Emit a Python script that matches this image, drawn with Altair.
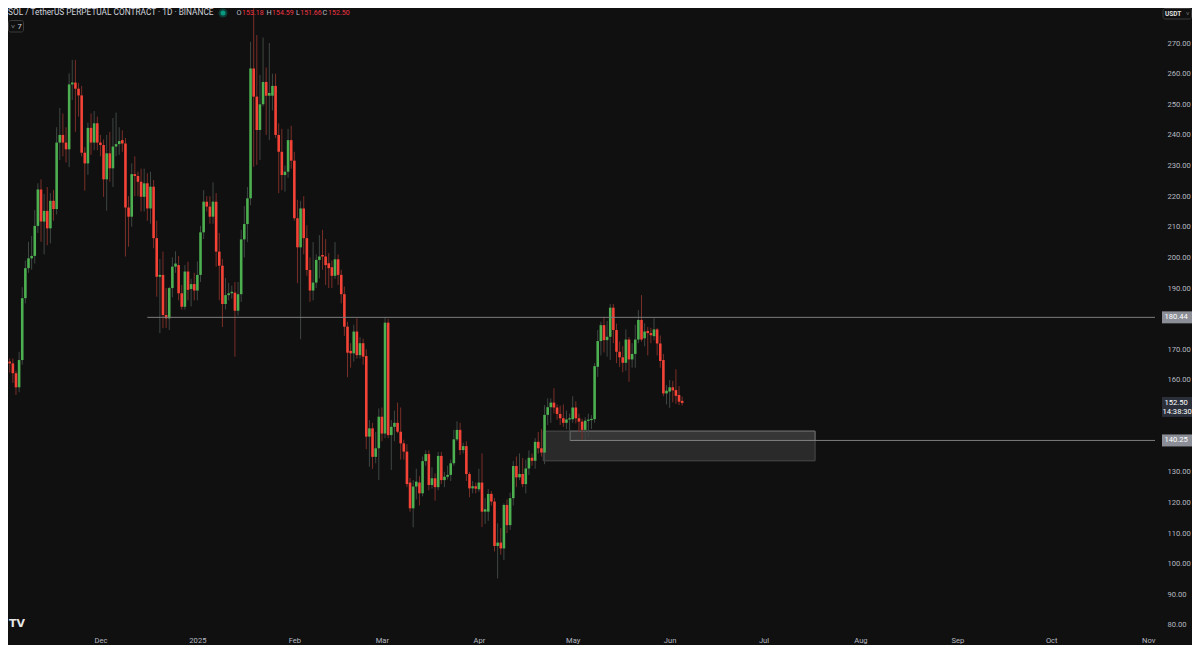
import altair as alt
import pandas as pd
import numpy as np

# ---------------- data ----------------
first_day = "2024-11-01"

opens = [
    # Nov 2024
    168.5, 166.0, 165.4, 162.2, 157.6, 166.5, 186.7, 196.5, 199.7, 200.5, 210.3, 222.2, 211.7, 215.2, 209.5,
    218.5, 215.8, 237.5, 240.0, 237.5, 235.3, 256.5, 257.1, 255.1, 252.9, 234.2, 230.7, 242.3, 237.5, 243.8,
    # Dec 2024
    237.5, 236.7, 225.5, 234.0, 229.1, 236.2, 237.0, 238.3, 237.2, 216.3, 213.3, 227.2, 226.6, 224.7, 219.8,
    224.2, 216.0, 223.1, 206.3, 193.7, 194.3, 181.2, 180.1, 190.0, 197.0, 197.5, 188.3, 183.9, 195.4, 189.7, 191.3,
    # Jan 2025
    189.2, 194.3, 208.2, 218.2, 216.6, 213.3, 218.2, 201.9, 197.3, 184.8, 187.7, 188.3, 188.5, 182.6, 188.0,
    205.9, 210.9, 219.3, 261.7, 252.5, 241.6, 250.0, 257.3, 252.8, 252.8, 256.0, 240.0, 234.5, 226.9, 228.0, 238.3,
    # Feb 2025
    231.6, 212.8, 203.3, 216.0, 206.3, 195.9, 189.2, 191.8, 199.2, 200.8, 200.3, 198.1, 196.8, 194.0, 199.4,
    194.3, 188.0, 177.4, 169.5, 168.7, 175.8, 168.1, 172.0, 167.8, 141.5, 144.2, 134.9, 137.7,
    # Mar 2025
    148.0, 142.5, 178.7, 142.0, 144.7, 146.0, 143.1, 139.3, 136.6, 126.5, 118.1, 125.2, 126.5, 123.0, 133.5,
    135.8, 125.7, 127.9, 125.0, 135.2, 127.3, 128.4, 129.0, 132.8, 140.6, 143.7, 137.1, 138.4, 129.3, 124.6, 125.3,
    # Apr 2025
    124.3, 126.5, 117.0, 117.0, 122.8, 120.3, 105.8, 106.9, 105.0, 119.2, 112.6, 121.4, 131.9, 128.2, 129.3,
    126.0, 131.1, 134.6, 133.6, 139.8, 137.7, 136.3, 148.6, 151.1, 152.6, 151.0, 148.9, 147.5, 146.0, 147.1,
    # May 2025
    147.2, 151.0, 147.5, 146.4, 143.7, 146.7, 147.0, 147.2, 164.3, 172.7, 177.9, 173.0, 174.1, 183.6, 176.3,
    169.2, 167.4, 165.6, 173.2, 166.7, 168.5, 173.2, 179.6, 173.6, 176.0, 175.3, 174.3, 176.5, 171.9, 166.5, 155.6,
    # Jun 2025
    156.2, 157.6, 156.7, 155.1, 153.18,
]

highs = [
    174.1, 167.0, 167.0, 163.0, 169.2, 190.3, 199.0, 205.1, 207.0, 215.5, 224.2, 225.5, 220.7, 223.0, 221.0,
    222.0, 242.5, 248.8, 247.0, 242.5, 260.1, 264.5, 264.5, 257.0, 256.0, 236.0, 244.0, 247.0, 247.8, 246.0,
    240.0, 238.5, 240.0, 241.0, 245.5, 247.3, 242.5, 241.5, 239.0, 220.0, 230.7, 233.0, 228.0, 229.0, 229.0,
    227.5, 228.0, 225.3, 212.0, 199.5, 201.9, 190.0, 190.4, 200.0, 202.0, 200.5, 191.0, 197.5, 198.6, 193.0, 195.0,
    198.7, 210.3, 222.0, 220.0, 220.0, 224.5, 221.0, 208.0, 199.5, 193.3, 191.7, 190.8, 192.0, 192.0, 209.0,
    216.8, 223.0, 270.4, 295.0, 272.6, 259.6, 271.8, 262.0, 270.0, 260.0, 260.0, 243.8, 242.0, 230.0, 242.0, 243.0,
    234.5, 218.8, 218.5, 220.0, 210.5, 200.0, 205.0, 201.0, 207.3, 209.0, 206.0, 201.4, 199.0, 205.0, 201.0,
    196.0, 190.5, 179.0, 172.0, 178.0, 180.1, 174.0, 173.5, 170.0, 146.9, 146.0, 143.0, 150.7,
    151.0, 180.5, 180.0, 146.9, 150.0, 152.6, 151.0, 140.5, 139.0, 128.0, 127.3, 131.0, 128.6, 135.0, 137.0,
    137.0, 131.5, 129.5, 136.5, 136.5, 130.0, 132.0, 134.0, 143.7, 146.5, 146.0, 139.5, 140.0, 130.0, 127.0, 126.5,
    131.0, 136.0, 121.5, 124.4, 123.7, 121.5, 113.2, 111.6, 119.7, 121.0, 123.2, 133.5, 135.0, 136.0, 134.5,
    134.0, 137.0, 136.0, 141.0, 143.0, 144.0, 151.8, 154.0, 154.0, 157.3, 152.0, 151.6, 152.0, 150.0, 149.0,
    154.7, 153.0, 149.0, 147.3, 147.8, 149.0, 148.5, 165.5, 176.3, 179.0, 180.6, 179.3, 184.8, 184.8, 178.4,
    172.5, 171.0, 176.5, 174.0, 172.0, 178.0, 182.8, 187.7, 178.5, 177.3, 177.0, 180.2, 177.0, 174.5, 168.5, 158.3,
    160.0, 159.7, 163.5, 158.0, 154.59,
]

lows = [
    163.3, 162.4, 159.0, 155.1, 156.0, 165.0, 185.0, 195.0, 196.0, 198.0, 208.0, 205.1, 201.0, 204.0, 204.6,
    212.0, 214.0, 231.8, 233.0, 231.0, 229.5, 251.4, 241.0, 246.0, 233.0, 221.8, 227.0, 233.5, 235.0, 235.0,
    233.0, 219.8, 215.3, 224.7, 223.0, 233.0, 233.5, 234.5, 200.3, 203.5, 210.0, 220.0, 220.0, 215.0, 215.0,
    212.0, 211.0, 203.0, 187.2, 175.3, 176.9, 177.0, 176.3, 187.0, 195.0, 186.0, 183.0, 183.0, 186.0, 184.0, 186.0,
    186.0, 192.0, 206.0, 215.0, 211.0, 211.0, 197.0, 186.0, 177.3, 183.0, 186.0, 186.5, 167.6, 181.0, 185.5,
    200.0, 205.0, 217.0, 229.6, 230.2, 231.8, 249.3, 240.0, 238.3, 248.0, 239.0, 221.0, 222.0, 221.5, 226.0, 229.0,
    212.0, 191.6, 173.3, 201.0, 194.0, 185.5, 186.0, 190.0, 193.2, 196.0, 191.0, 190.0, 190.0, 193.0, 191.0,
    185.0, 174.4, 160.9, 164.0, 166.0, 167.0, 167.0, 165.0, 137.4, 131.7, 131.0, 132.8, 127.3,
    140.0, 141.0, 141.0, 130.6, 140.0, 142.6, 134.0, 134.0, 125.0, 117.0, 111.9, 121.0, 119.0, 122.0, 132.0,
    124.0, 124.5, 120.6, 124.0, 126.0, 125.0, 127.5, 127.0, 132.0, 140.0, 135.5, 136.0, 127.0, 121.7, 123.0, 123.0,
    123.5, 112.0, 113.0, 114.0, 119.0, 104.0, 95.2, 103.0, 101.2, 110.0, 111.0, 119.0, 125.0, 127.3, 125.0,
    123.0, 129.0, 132.0, 131.0, 136.0, 135.0, 132.5, 145.3, 146.0, 149.1, 147.0, 145.3, 144.7, 144.0, 140.25,
    146.0, 145.8, 143.0, 140.6, 140.3, 141.3, 144.0, 146.0, 161.0, 168.0, 169.0, 167.6, 166.5, 172.0, 165.5,
    164.2, 162.5, 163.0, 159.4, 164.0, 164.0, 172.0, 172.5, 171.0, 168.0, 172.0, 173.0, 168.0, 164.0, 154.7, 152.0,
    150.9, 152.7, 152.2, 151.8, 151.66,
]

closes = [
    165.8, 165.4, 162.2, 157.6, 166.5, 186.7, 196.5, 199.7, 200.5, 210.3, 222.2, 211.7, 215.2, 209.5, 218.5,
    215.8, 237.5, 240.0, 237.5, 235.3, 256.5, 257.1, 255.1, 252.9, 234.2, 230.7, 242.3, 237.5, 243.8, 237.5,
    236.7, 225.5, 234.0, 229.1, 236.2, 237.0, 238.0, 237.2, 216.3, 213.3, 227.2, 226.6, 224.7, 219.8, 224.2,
    216.0, 223.1, 206.3, 193.7, 194.3, 181.2, 180.1, 190.0, 197.0, 198.0, 188.3, 183.9, 195.4, 189.4, 191.3, 189.2,
    194.3, 208.2, 218.2, 216.6, 213.3, 218.2, 201.9, 197.3, 184.8, 187.7, 188.3, 188.8, 182.6, 188.0, 205.9,
    210.9, 219.3, 261.7, 252.5, 241.6, 250.0, 257.3, 252.8, 253.7, 256.0, 240.0, 234.5, 226.9, 228.0, 238.3, 231.6,
    212.8, 203.3, 216.0, 206.3, 195.9, 189.2, 191.8, 199.2, 200.3, 200.3, 197.5, 196.5, 194.0, 199.4, 194.3,
    188.0, 177.4, 168.9, 168.7, 175.8, 168.1, 172.0, 167.6, 141.5, 144.2, 134.9, 137.7, 148.0,
    142.5, 178.7, 142.0, 144.7, 146.0, 143.1, 139.3, 136.6, 126.0, 118.1, 125.2, 126.8, 123.0, 133.5, 135.8,
    125.7, 127.9, 125.0, 135.2, 127.3, 128.4, 129.0, 132.8, 140.6, 143.7, 137.1, 138.4, 129.3, 124.6, 125.3, 124.5,
    126.5, 117.0, 117.8, 122.8, 120.3, 105.8, 106.9, 105.0, 119.2, 112.6, 121.4, 131.9, 128.2, 129.3, 126.0,
    131.1, 134.6, 133.6, 139.8, 137.7, 136.3, 148.6, 151.1, 152.6, 151.0, 148.9, 147.5, 146.0, 147.1, 147.5,
    151.0, 147.5, 146.4, 143.7, 146.7, 147.0, 147.2, 164.5, 172.7, 177.9, 173.0, 174.1, 183.6, 176.3, 169.2,
    167.4, 165.6, 173.2, 166.7, 168.5, 173.2, 179.6, 173.2, 175.8, 175.3, 174.6, 176.5, 171.9, 166.2, 155.6, 156.5,
    157.6, 156.6, 154.8, 152.9, 152.50,
]

# drawings
level_prices = [180.44, 140.25]
level_starts = ["2024-12-16", "2025-04-30T05:00"]
zone_starts = ["2025-04-21T14:00", "2025-04-30T05:00"]
zone_ends = ["2025-07-17T12:00", "2025-07-17T12:00"]
zone_lows = [133.6, 140.25]
zone_highs = [143.3, 143.3]
countdown = "14:38:30"

month_ticks = ["2024-12-01", "2025-01-01", "2025-02-01", "2025-03-01", "2025-04-01", "2025-05-01",
               "2025-06-01", "2025-07-01", "2025-08-01", "2025-09-01", "2025-10-01", "2025-11-01"]
month_labels = ["Dec", "2025", "Feb", "Mar", "Apr", "May", "Jun", "Jul", "Aug", "Sep", "Oct", "Nov"]
price_ticks = [80, 90, 100, 110, 120, 130, 160, 170, 190, 200, 210, 220, 230, 240, 250, 260, 270]

title_text = "SOL / TetherUS PERPETUAL CONTRACT · 1D · BINANCE"

assert len(opens) == len(highs) == len(lows) == len(closes) == 217

# ---------------- styling ----------------
BG = "#101010"
UP = "#4caf50"
DN = "#f44336"
UP_WICK = "#3e4742"
DN_WICK = "#7a2e28"
TXT = "#b5b8c0"
FONT = "Roboto"
FS = 7.6

JAN1 = pd.Timestamp("2025-01-01")


def day(s):
    return (pd.Timestamp(s) - JAN1).total_seconds() / 86400.0


X_DOMAIN = [-58.954, 306.18]
Y_DOMAIN = [79.67, 281.44]
W, H = 1152, 618

dates = pd.date_range(first_day, periods=len(opens), freq="D")
df = pd.DataFrame({
    "d": [(t - JAN1).days for t in dates],
    "o": opens, "h": highs, "l": lows, "c": closes,
})
df["up"] = df["c"] >= df["o"]
top = np.maximum(df["o"], df["c"])
bot = np.minimum(df["o"], df["c"])
minb = 0.4
small = (top - bot) < minb
mid = (top + bot) / 2
df["top"] = np.where(small, mid + minb / 2, top)
df["bot"] = np.where(small, mid - minb / 2, bot)

xs = alt.Scale(domain=X_DOMAIN, nice=False, zero=False)
ys = alt.Scale(domain=Y_DOMAIN, nice=False, zero=False)

tick_days = [int(day(t)) for t in month_ticks]
label_expr = "".join(f"datum.value == {v} ? '{lab}' : " for v, lab in zip(tick_days, month_labels)) + "''"

x_axis = alt.Axis(values=tick_days, labelExpr=label_expr, title=None, grid=False, ticks=False, domain=False,
                  labelColor=TXT, labelFont=FONT, labelFontSize=FS, labelPadding=10, labelFlush=False,
                  labelOverlap=False)
y_axis = alt.Axis(orient="right", values=price_ticks, format=".2f", title=None, grid=False, ticks=False,
                  domain=False, labelColor=TXT, labelFont=FONT, labelFontSize=FS, labelPadding=7,
                  labelAlign="left", labelBaseline="middle", labelOverlap=False)


def X(field):
    return alt.X(field, type="quantitative", scale=xs, axis=x_axis)


def Y(field):
    return alt.Y(field, type="quantitative", scale=ys, axis=y_axis)


color_wick = alt.condition("datum.up", alt.value(UP_WICK), alt.value(DN_WICK))
color_body = alt.condition("datum.up", alt.value(UP), alt.value(DN))

wicks = alt.Chart(df).mark_rule(strokeWidth=1, clip=True).encode(
    x=X("d"), y=Y("l"), y2="h:Q", color=color_wick)
bodies = alt.Chart(df).mark_bar(size=2.6, clip=True, strokeWidth=0).encode(
    x=X("d"), y=Y("bot"), y2="top:Q", color=color_body)

# zones
zdf = pd.DataFrame({
    "x0": [day(s) for s in zone_starts],
    "x1": [day(s) for s in zone_ends],
    "y0": zone_lows, "y1": zone_highs,
})
zone_big = alt.Chart(zdf.iloc[[0]]).mark_rect(fill="#ffffff", fillOpacity=0.11, stroke="#4a4a4a",
                                             strokeWidth=1, clip=True).encode(
    x=X("x0"), x2="x1:Q", y=Y("y0"), y2="y1:Q")
zone_small = alt.Chart(zdf.iloc[[1]]).mark_rect(fill="#ffffff", fillOpacity=0.06, stroke="#666666",
                                               strokeWidth=1, clip=True).encode(
    x=X("x0"), x2="x1:Q", y=Y("y0"), y2="y1:Q")

# horizontal levels
ldf = pd.DataFrame({"price": level_prices, "x0": [day(s) for s in level_starts]})
ldf["x1"] = X_DOMAIN[1]
levels = alt.Chart(ldf).mark_rule(strokeWidth=1, color="#7d7d7d", clip=True).encode(
    x=X("x0"), x2="x1:Q", y=Y("price"))

# price tags on the axis
tdf = pd.DataFrame({"price": level_prices, "label": [f"{p:.2f}" for p in level_prices]})
tag_boxes = alt.Chart(tdf).mark_rect(color="#8b8e96", yOffset=-6, y2Offset=6).encode(
    x=alt.value(W + 2), x2=alt.value(W + 32), y=Y("price"), y2="price:Q")
tag_text = alt.Chart(tdf).mark_text(align="left", baseline="middle", color="#ffffff", font=FONT,
                                    fontSize=FS).encode(
    x=alt.value(W + 4.5), y=Y("price"), text="label:N")

last = pd.DataFrame({"price": [closes[-1]], "label": [f"{closes[-1]:.2f}"], "cd": [countdown]})
last_box = alt.Chart(last).mark_rect(color="#2b2f3a", yOffset=-6, y2Offset=14).encode(
    x=alt.value(W + 2), x2=alt.value(W + 32), y=Y("price"), y2="price:Q")
last_text = alt.Chart(last).mark_text(align="left", baseline="middle", color="#ffffff", font=FONT,
                                      fontSize=FS).encode(
    x=alt.value(W + 4.5), y=Y("price"), text="label:N")
last_cd = alt.Chart(last).mark_text(align="left", baseline="middle", color="#ffffff", font=FONT,
                                    fontSize=FS, dy=9).encode(
    x=alt.value(W + 2.5), y=Y("price"), text="cd:N")

# header
one = pd.DataFrame({"k": [0]})


def txt(s, x, y, color, size=FS, weight="normal", align="left", font=FONT):
    return alt.Chart(one).mark_text(align=align, baseline="middle", color=color, fontSize=size,
                                    fontWeight=weight, font=font, text=s).encode(
        x=alt.value(x), y=alt.value(y))


hdr_y = 5
header = [txt(title_text, 0, hdr_y, "#d1d4dc", size=8.3)]
dot_outer = alt.Chart(one).mark_point(filled=True, size=81, color="#0d3d35", opacity=1).encode(
    x=alt.value(215), y=alt.value(hdr_y))
dot_inner = alt.Chart(one).mark_point(filled=True, size=25, color="#089981", opacity=1).encode(
    x=alt.value(215), y=alt.value(hdr_y))
ohlc_letters = ["O", "H", "L", "C"]
ohlc_values = [f"{opens[-1]:.2f}", f"{highs[-1]:.2f}", f"{lows[-1]:.2f}", f"{closes[-1]:.2f}"]
letter_x = [228.5, 258.5, 288.0, 314.5]
for lx, lt, vv in zip(letter_x, ohlc_letters, ohlc_values):
    header.append(txt(lt, lx, hdr_y, "#b5b8c0", size=7.3))
    header.append(txt(vv, lx + (4.2 if lt == "L" else 5.6), hdr_y, "#f23645", size=7.0))

# "v 7" collapse box
box7 = alt.Chart(one).mark_rect(fill=BG, stroke="#3a3a3a", strokeWidth=1, cornerRadius=2).encode(
    x=alt.value(0.5), x2=alt.value(15.5), y=alt.value(12.5), y2=alt.value(24))
txt7 = [txt("˅", 3, 18.5, "#d1d4dc", size=7), txt("7", 9.5, 18.5, "#d1d4dc")]

# USDT box
usdt_box = alt.Chart(one).mark_rect(fill=BG, stroke="#3a3a3a", strokeWidth=1, cornerRadius=2).encode(
    x=alt.value(W + 3), x2=alt.value(W + 31.5), y=alt.value(0.5), y2=alt.value(11))
usdt = [txt("USDT", W + 5, 6, "#e0e0e0", size=6.5, weight="bold"), txt("˅", W + 26, 6, "#c0c0c0", size=6)]

# TradingView logo
logo = txt("TV", 1, H - 2, "#e6e6e6", size=11, weight="bold", font="DejaVu Sans")

layers = [zone_big, zone_small, wicks, bodies, levels, tag_boxes, tag_text, last_box, last_text, last_cd,
          dot_outer, dot_inner, box7, usdt_box, logo] + header + txt7 + usdt

chart = alt.layer(*layers).properties(
    width=W, height=H,
    autosize=alt.AutoSizeParams(type="none"),
    padding={"left": 0, "top": 0, "right": 32, "bottom": 19},
    background=BG,
).configure_view(strokeWidth=0)

chart.save("out.html", embed_options={"renderer": "svg", "actions": False})
